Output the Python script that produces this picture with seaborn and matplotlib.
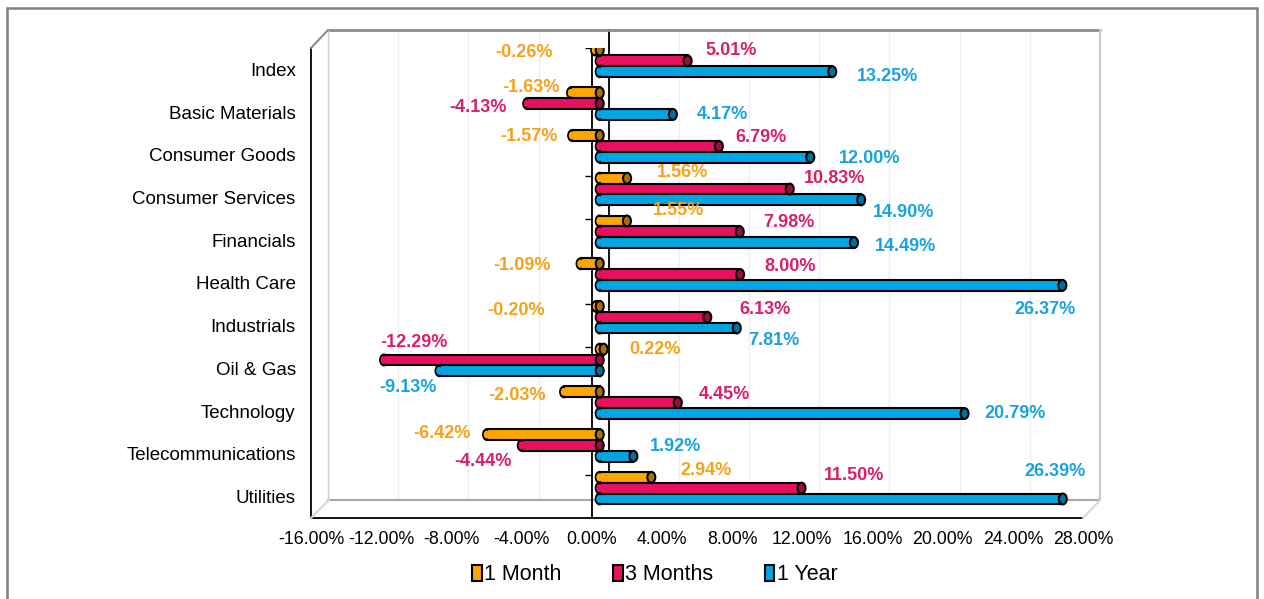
import matplotlib.pyplot as plt
import seaborn as sns
import pandas as pd
import numpy as np
import matplotlib.colors as mcolors
from matplotlib.patches import Ellipse, Rectangle, Patch
from matplotlib.lines import Line2D
from matplotlib.transforms import ScaledTranslation

# Data:
sectors = [
  "Index", "Basic Materials", "Consumer Goods", "Consumer Services",
  "Financials", "Health Care", "Industrials", "Oil & Gas",
  "Technology", "Telecommunications", "Utilities",
]
periods = ["1 Month", "3 Months", "1 Year"]
month_1 = [-0.26, -1.63, -1.57, 1.56, 1.55, -1.09, -0.20, 0.22, -2.03, -6.42, 2.94]
months_3 = [5.01, -4.13, 6.79, 10.83, 7.98, 8.00, 6.13, -12.29, 4.45, -4.44, 11.50]
year_1 = [13.25, 4.17, 12.00, 14.90, 14.49, 26.37, 7.81, -9.13, 20.79, 1.92, 26.39]
x_ticks = list(range(-16, 29, 4))

# Styles:
bar_colors = ["#FFA500", "#E8105F", "#00A5E6"]
text_colors = ["#F7A11A", "#D9206A", "#19A3E0"]
# label nudges in pixels (dx right, dy down) from the bar end, as Excel placed them
label_nudge = [
  [(-71, 2), (-40, -5), (-43, 1), (55, -6), (52, -10), (-59, 2), (-80, 4), (51, 0), (-47, 4), (-45, -1), (55, -7)],
  [(43, -10), (-49, 4), (42, -9), (45, -11), (49, -9), (50, -8), (58, -8), (30, -17), (47, -8), (-39, 16), (53, -13)],
  [(55, 5), (49, 0), (59, 1), (42, 13), (52, 4), (-17, 24), (37, 12), (-32, 17), (51, 0), (42, -10), (-8, -27)],
]

df = pd.DataFrame({
  "sector": sectors * 3,
  "period": np.repeat(periods, len(sectors)),
  "value": month_1 + months_3 + year_1,
})

sns.set_style("white")
plt.rcParams["font.family"] = ["Liberation Sans", "DejaVu Sans"]
plt.rcParams["text.color"] = "black"
plt.rcParams["xtick.color"] = "black"
plt.rcParams["ytick.color"] = "black"

W, H = 1264, 599
fig = plt.figure(figsize=(W / 100, H / 100), dpi=100)
ax = fig.add_axes([311 / W, 1 - 518 / H, (1083 - 311) / W, (518 - 48) / H])

sns.barplot(data=df, x="value", y="sector", hue="period",
            hue_order=periods, palette=bar_colors, orient="h",
            width=0.76, errorbar=None, saturation=1, legend=False,
            edgecolor="black", linewidth=1.5, ax=ax)

ax.set_xlim(-16, 28)
ax.set_ylim(10.5, -0.5)

# 3D look: bars sit a little behind the front plane
bar_shift = ax.transData + ScaledTranslation(8 / 100, 8.5 / 100, fig.dpi_scale_trans)
cap_w = 8 / 17.55

for i, cont in enumerate(ax.containers):
  dark = tuple(c * 0.68 for c in mcolors.to_rgb(bar_colors[i]))
  for j, p in enumerate(cont.patches):
    p.set_transform(bar_shift)
    p.set_zorder(3 + j * 0.01)
    x0, w = p.get_x(), p.get_width()
    xl, xr = min(x0, x0 + w), max(x0, x0 + w)
    yc, h = p.get_y() + p.get_height() / 2, abs(p.get_height())
    z = p.get_zorder()
    # rounded far end
    ax.add_patch(Ellipse((xl, yc), cap_w, h, facecolor=bar_colors[i],
                         edgecolor="black", lw=1.5, transform=bar_shift, zorder=z - 0.005))
    ax.add_patch(Ellipse((xl, yc), cap_w * 0.85, h * 0.72, facecolor=bar_colors[i],
                         edgecolor="none", transform=bar_shift, zorder=z + 0.001))
    # visible end cap
    ax.add_patch(Ellipse((xr, yc), cap_w, h, facecolor=dark,
                         edgecolor="black", lw=1.5, transform=bar_shift, zorder=z + 0.002))

# Data labels:
values = [month_1, months_3, year_1]
for i, vals in enumerate(values):
  for j, v in enumerate(vals):
    p = ax.containers[i].patches[j]
    yc = p.get_y() + p.get_height() / 2
    dx, dy = label_nudge[i][j]
    ax.annotate(f"{v:.2f}%", xy=(v, yc), xycoords=bar_shift,
                xytext=(dx, -dy), textcoords="offset pixels",
                ha="center", va="center", fontsize=13, fontweight="bold",
                color=text_colors[i], zorder=6)

# Axes styling:
ax.set_xlabel("")
ax.set_ylabel("")
ax.set_xticks(x_ticks)
ax.set_xticklabels([f"{t:.2f}%" for t in x_ticks], fontsize=12.8)
ax.tick_params(axis="x", length=5, width=1, direction="out", pad=4, color="black",
               labelcolor="black")
ax.tick_params(axis="y", length=0, pad=11, labelsize=13.5, labelcolor="black")
ax.spines[["top", "right"]].set_visible(False)
ax.spines[["left", "bottom"]].set_color("black")
ax.spines[["left", "bottom"]].set_linewidth(1.3)
ax.set_facecolor("none")
ax.set_zorder(1)

# front zero axis with category ticks
ax.axvline(0, color="black", lw=1.3, zorder=2)
ax.hlines(np.arange(-0.5, len(sectors)), -0.4, 0, color="black", lw=1, zorder=2)

# back wall
wall = ax.transData + ScaledTranslation(17 / 100, 18 / 100, fig.dpi_scale_trans)
for t in x_ticks[1:-1]:
  ax.plot([t, t], [-0.5, 10.5], color="#eeeeee", lw=1, transform=wall, clip_on=False, zorder=0)
ax.plot([0, 0], [-0.5, 10.5], color="black", lw=1.3, transform=wall, clip_on=False, zorder=0.5)
ax.plot([-16, 28], [-0.5, -0.5], color="#8c8c8c", lw=2, transform=wall, clip_on=False, zorder=0.5)
ax.plot([28, 28], [-0.5, 10.5], color="#c8c8c8", lw=1.5, transform=wall, clip_on=False, zorder=0.5)
ax.plot([-16, -16], [-0.5, 10.5], color="#d0d0d0", lw=1, transform=wall, clip_on=False, zorder=0.5)
ax.plot([-16, 28], [10.5, 10.5], color="#a8a8a8", lw=1.5, transform=wall, clip_on=False, zorder=0.5)

def px(x, y):
  return x / W, 1 - y / H

for (a, b), c in [(((311, 48), (328, 30)), "#8c8c8c"),
                  (((311, 518), (329, 500)), "#d8d8d8"),
                  (((1083, 518), (1100, 500)), "#d8d8d8")]:
  (x1, y1), (x2, y2) = px(*a), px(*b)
  fig.add_artist(Line2D([x1, x2], [y1, y2], color=c, lw=1.5))

# outer chart border
fig.add_artist(Rectangle((7 / W, -0.02), (1257 - 7) / W, 1 - 8 / H + 0.02,
                         fill=False, edgecolor="#808080", lw=1.8))

# Legend:
handles = [Patch(facecolor=c, edgecolor="black", lw=1.5) for c in bar_colors]
fig.legend(handles, periods, loc="center", bbox_to_anchor=(0.518, 1 - 575 / H),
           ncol=3, frameon=False, fontsize=15.5, handlelength=0.45,
           handleheight=0.75, handletextpad=0.1, columnspacing=2.4)

fig.savefig("out.png", dpi=100)
